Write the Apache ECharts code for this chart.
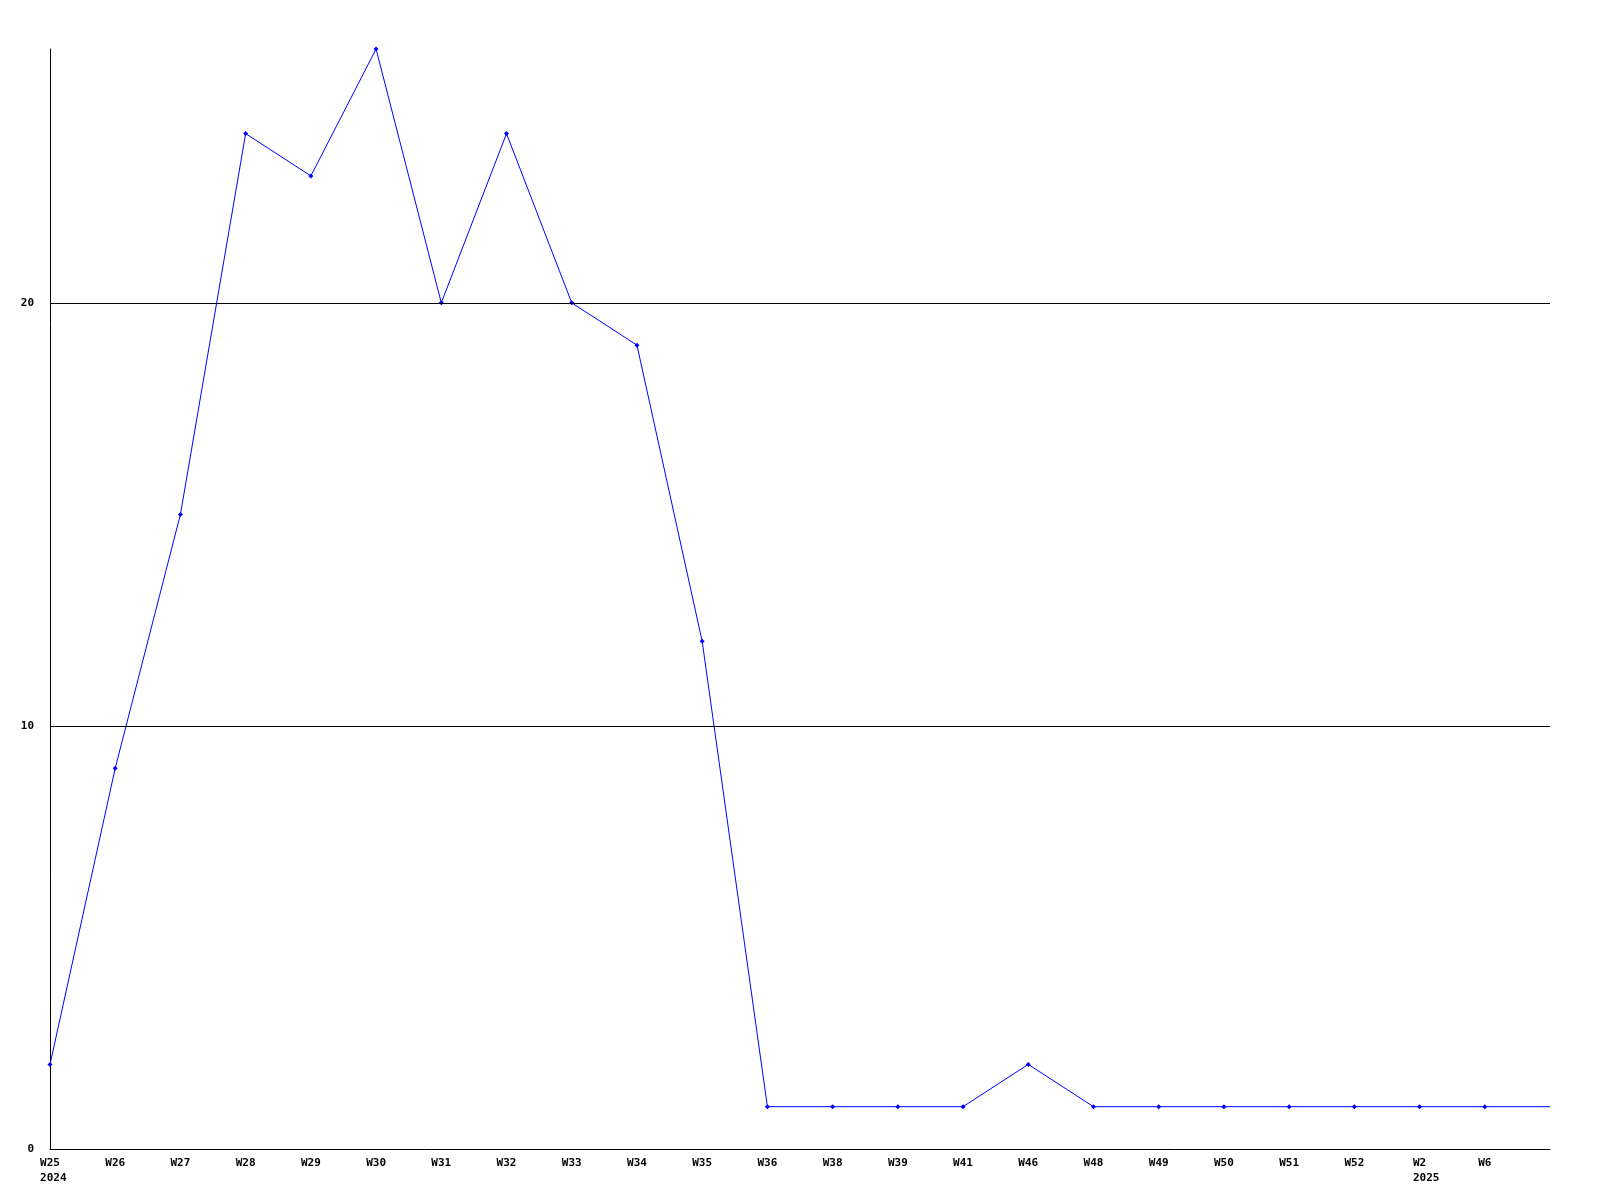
<!DOCTYPE html>
<html>
<head>
<meta charset="utf-8">
<script src="https://cdn.jsdelivr.net/npm/echarts@6/dist/echarts.min.js"></script>
<style>html,body{margin:0;padding:0;background:#fff}#c{width:1600px;height:1200px}</style>
</head>
<body>
<div id="c"></div>
<script>
const weeks = ['W25','W26','W27','W28','W29','W30','W31','W32','W33','W34','W35','W36','W38','W39','W41','W46','W48','W49','W50','W51','W52','W2','W6',''];
const years = {'W25':'2024','W2':'2025'};
const values = [2,9,15,24,23,26,20,24,20,19,12,1,1,1,1,2,1,1,1,1,1,1,1,1];
const yTicks = [0,10,20];
const gridValues = [10,20];

const font = 'DejaVu Sans Mono';
const chart = echarts.init(document.getElementById('c'));
chart.setOption({
  animation:false,
  backgroundColor:'#ffffff',
  grid:{left:50,right:50,top:49,bottom:51},
  xAxis:{
    type:'category', boundaryGap:false, data:weeks,
    axisLine:{lineStyle:{color:'#000',width:1}},
    axisTick:{show:false},
    axisLabel:{
      interval:0, margin:7, color:'#000', fontFamily:font, fontWeight:'bold', fontSize:11, lineHeight:15,
      formatter:function(v){ return years[v] ? '{w|'+v+'}\n{y|'+years[v]+'}' : '{w|'+v+'}'; },
      rich:{
        w:{fontFamily:font,fontWeight:'bold',fontSize:11,color:'#000',lineHeight:15,align:'left'},
        y:{fontFamily:font,fontWeight:'bold',fontSize:11,color:'#000',lineHeight:15,width:1,align:'left'}
      }
    }
  },
  yAxis:{
    type:'value', min:0, max:26, interval:10,
    axisLine:{show:true,lineStyle:{color:'#000',width:1}},
    axisTick:{show:false},
    splitLine:{show:false},
    axisLabel:{margin:16,color:'#000',fontFamily:font,fontWeight:'bold',fontSize:11,
      formatter:function(v){ return yTicks.indexOf(v)>=0 ? String(v) : ''; }}
  },
  series:[
    {type:'line', data:[], silent:true, z:1,
     markLine:{silent:true, symbol:'none', label:{show:false}, animation:false,
       lineStyle:{color:'#000',width:1,type:'solid'},
       data:gridValues.map(v=>({yAxis:v}))}},
    {type:'line', z:3,
     data:values.map((v,i)=> i===values.length-1 ? {value:v,symbol:'none'} : v),
     symbol:'diamond', symbolSize:5,
     itemStyle:{color:'#0000ff'},
     lineStyle:{color:'#0000ff',width:1}}
  ]
});
</script>
</body>
</html>
